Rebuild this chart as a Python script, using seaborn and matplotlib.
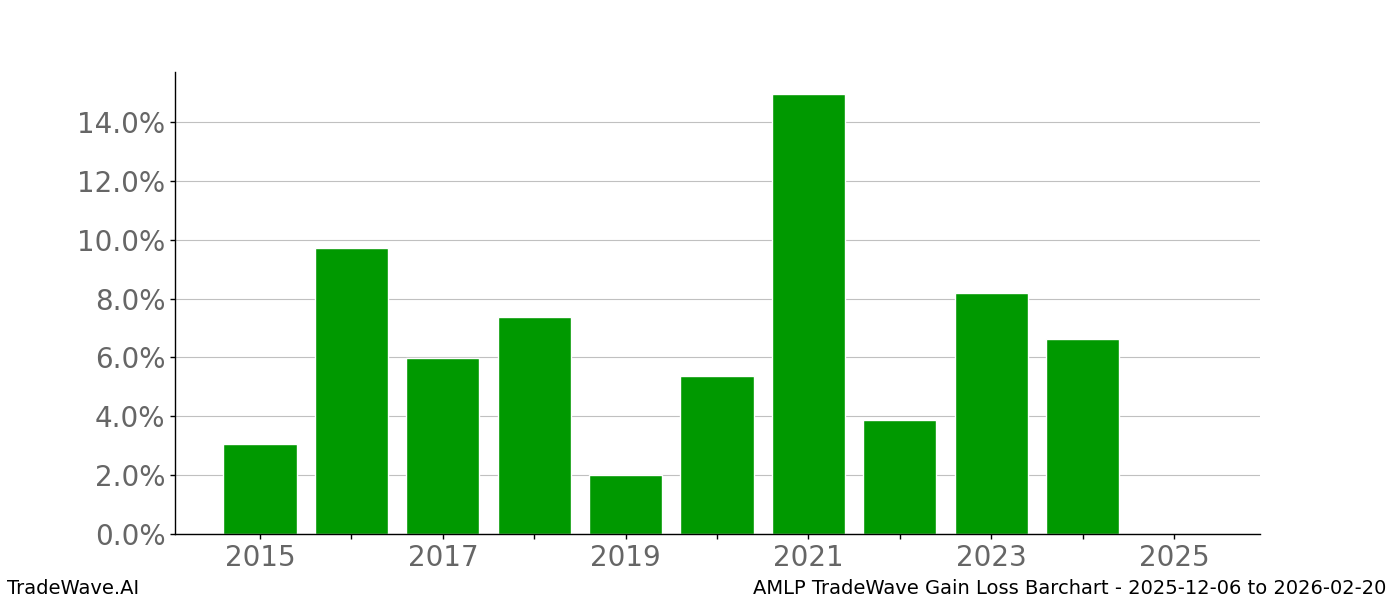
import pandas as pd
import matplotlib
matplotlib.use('Agg')
import matplotlib.pyplot as plt
import seaborn as sns
from matplotlib.ticker import FuncFormatter

# yearly gain values (fraction)
years = [2015, 2016, 2017, 2018, 2019, 2020, 2021, 2022, 2023, 2024, 2025]
gains = [0.0306, 0.0972, 0.0598, 0.0737, 0.0200, 0.0537, 0.1495, 0.0387, 0.0819, 0.0663, 0.0]

df = pd.DataFrame({'year': years, 'gain': gains})

sns.set_style('white')
plt.rcParams['font.family'] = ['DejaVu Sans']

fig = plt.figure(figsize=(14, 6), dpi=100)
ax = fig.add_axes([0.125, 0.11, 0.775, 0.77])

sns.barplot(data=df, x='year', y='gain', native_scale=True, color='#009900',
            saturation=1, width=0.8, ax=ax)

ax.set_xlim(2014.07, 2025.94)
ax.set_ylim(0, 0.157)
ax.set_xticks(years)
ax.set_xticklabels([str(y) if y % 2 == 1 else '' for y in years])
ax.set_yticks([i * 0.02 for i in range(8)])
ax.yaxis.set_major_formatter(FuncFormatter(lambda v, p: f'{v * 100:.1f}%'))
ax.tick_params(axis='both', labelsize=20, labelcolor='#666666', length=3.5,
               pad=3.5, width=1, color='black', direction='out', bottom=True, left=True)
ax.set_xlabel('')
ax.set_ylabel('')

ax.set_axisbelow(True)
ax.yaxis.grid(True, color='#c0c0c0', linewidth=0.8)
ax.xaxis.grid(False)
for s in ['top', 'right']:
    ax.spines[s].set_visible(False)
for s in ['left', 'bottom']:
    ax.spines[s].set_color('black')
    ax.spines[s].set_linewidth(1)

fig.text(0.005, 0.02, 'TradeWave.AI', fontsize=14, color='black', ha='left', va='center')
fig.text(0.99, 0.02, 'AMLP TradeWave Gain Loss Barchart - 2025-12-06 to 2026-02-20',
         fontsize=14, color='black', ha='right', va='center')

fig.savefig('out.png', dpi=100)
